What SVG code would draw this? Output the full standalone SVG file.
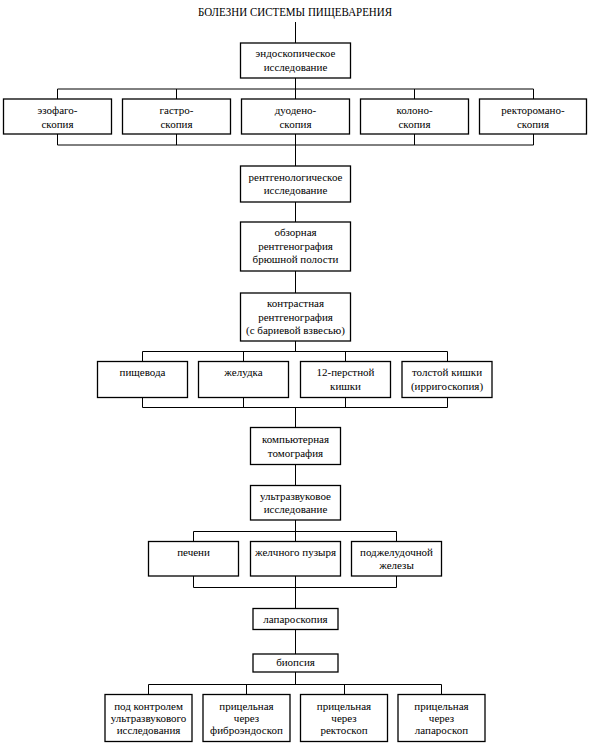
<svg xmlns="http://www.w3.org/2000/svg" width="589" height="744" viewBox="0 0 589 744">
<style>
.b{fill:#fff;stroke:#000;stroke-width:1.3}
.c{fill:none;stroke:#000;stroke-width:1}
</style>
<rect width="589" height="744" fill="#fff"/>
<g font-family="'Liberation Serif', serif" font-size="12" fill="#000" text-anchor="middle">
<text x="295" y="16" textLength="194" lengthAdjust="spacingAndGlyphs">БОЛЕЗНИ СИСТЕМЫ ПИЩЕВАРЕНИЯ</text>
</g>
<g id="connectors">
<path class="c" d="M295.5 22V43M295.5 78V89M57.5 89H533.5M57.5 89V99M176.5 89V99M295.5 89V99M414.5 89V99M533.5 89V99"/>
<path class="c" d="M57.5 134V145M176.5 134V145M295.5 134V145M414.5 134V145M533.5 134V145M57.5 145H533.5M295.5 145V166"/>
<path class="c" d="M295.5 202V222M295.5 271V293M295.5 341V351.5M142.5 351.5H447.5M142.5 351.5V361.5M243.5 351.5V361.5M345.5 351.5V361.5M447.5 351.5V361.5"/>
<path class="c" d="M142.5 397.5V407.5M243.5 397.5V407.5M345.5 397.5V407.5M447.5 397.5V407.5M142.5 407.5H447.5M295.5 407.5V427.5"/>
<path class="c" d="M295.5 464.5V485.5M295.5 520V531.5M193.5 531.5H396.5M193.5 531.5V541.5M295.5 531.5V541.5M396.5 531.5V541.5"/>
<path class="c" d="M193.5 576V587.5M295.5 576V587.5M396.5 576V587.5M193.5 587.5H396.5M295.5 587.5V608.5"/>
<path class="c" d="M295.5 629.5V654M295.5 672V684.5M148.5 684.5H441.5M148.5 684.5V694.5M246.5 684.5V694.5M344.5 684.5V694.5M441.5 684.5V694.5"/>
</g>
<g font-family="'Liberation Serif', serif" font-size="11" fill="#000" text-anchor="middle">
<g id="endo"><rect class="b" x="240.5" y="43" width="110" height="35"/><text x="295.5" y="57">эндоскопическое</text><text x="295.5" y="70.5">исследование</text></g>
<g id="esophago"><rect class="b" x="3.5" y="99" width="108" height="35"/><text x="57.5" y="113.5">эзофаго-</text><text x="57.5" y="127.5">скопия</text></g>
<g id="gastro"><rect class="b" x="122.5" y="99" width="108" height="35"/><text x="176.5" y="113.5">гастро-</text><text x="176.5" y="127.5">скопия</text></g>
<g id="duodeno"><rect class="b" x="241.5" y="99" width="108" height="35"/><text x="295.5" y="113.5">дуодено-</text><text x="295.5" y="127.5">скопия</text></g>
<g id="colono"><rect class="b" x="360.5" y="99" width="108" height="35"/><text x="414.5" y="113.5">колоно-</text><text x="414.5" y="127.5">скопия</text></g>
<g id="rectoromano"><rect class="b" x="479.5" y="99" width="107" height="35"/><text x="533" y="113.5">ректоромано-</text><text x="533" y="127.5">скопия</text></g>
<g id="rentgen"><rect class="b" x="240.5" y="166" width="110" height="36"/><text x="295.5" y="180.5">рентгенологическое</text><text x="295.5" y="194">исследование</text></g>
<g id="obzor"><rect class="b" x="240.5" y="222" width="110" height="49"/><text x="295.5" y="236">обзорная</text><text x="295.5" y="249.5">рентгенография</text><text x="295.5" y="263">брюшной полости</text></g>
<g id="contrast"><rect class="b" x="240.5" y="293" width="110" height="48"/><text x="295.5" y="307">контрастная</text><text x="295.5" y="320.5">рентгенография</text><text x="295.5" y="334">(с бариевой взвесью)</text></g>
<g id="pishchevoda"><rect class="b" x="97.5" y="361.5" width="90" height="36"/><text x="142.5" y="376">пищевода</text></g>
<g id="zheludka"><rect class="b" x="198.5" y="361.5" width="90" height="36"/><text x="243.5" y="376">желудка</text></g>
<g id="duodenum"><rect class="b" x="300.5" y="361.5" width="90" height="36"/><text x="345.5" y="376">12-перстной</text><text x="345.5" y="389.5">кишки</text></g>
<g id="colon"><rect class="b" x="402" y="361.5" width="90" height="36"/><text x="447" y="376">толстой кишки</text><text x="447" y="389.5">(ирригоскопия)</text></g>
<g id="kt"><rect class="b" x="250.5" y="427.5" width="90" height="37"/><text x="295.5" y="442.5">компьютерная</text><text x="295.5" y="456.5">томография</text></g>
<g id="us"><rect class="b" x="250.5" y="485.5" width="90" height="34.5"/><text x="295.5" y="500">ультразвуковое</text><text x="295.5" y="513">исследование</text></g>
<g id="liver"><rect class="b" x="148.5" y="541.5" width="90" height="34.5"/><text x="193.5" y="556">печени</text></g>
<g id="gallbladder"><rect class="b" x="250.5" y="541.5" width="90" height="34.5"/><text x="295.5" y="556">желчного пузыря</text></g>
<g id="pancreas"><rect class="b" x="351.5" y="541.5" width="90" height="34.5"/><text x="396.5" y="556">поджелудочной</text><text x="396.5" y="569">железы</text></g>
<g id="laparoscopy"><rect class="b" x="253" y="608.5" width="85" height="21"/><text x="295.5" y="623">лапароскопия</text></g>
<g id="biopsy"><rect class="b" x="253" y="654" width="85" height="18"/><text x="295.5" y="665.5">биопсия</text></g>
<g id="b-us"><rect class="b" x="105" y="694.5" width="87" height="47"/><text x="148.5" y="709.5">под контролем</text><text x="148.5" y="721.5">ультразвукового</text><text x="148.5" y="733.5">исследования</text></g>
<g id="b-fibro"><rect class="b" x="203" y="694.5" width="87" height="47"/><text x="246.5" y="709.5">прицельная</text><text x="246.5" y="721.5">через</text><text x="246.5" y="733.5">фиброэндоскоп</text></g>
<g id="b-recto"><rect class="b" x="300.5" y="694.5" width="87" height="47"/><text x="344" y="709.5">прицельная</text><text x="344" y="721.5">через</text><text x="344" y="733.5">ректоскоп</text></g>
<g id="b-laparo"><rect class="b" x="398" y="694.5" width="87" height="47"/><text x="441.5" y="709.5">прицельная</text><text x="441.5" y="721.5">через</text><text x="441.5" y="733.5">лапароскоп</text></g>
</g>
</svg>
